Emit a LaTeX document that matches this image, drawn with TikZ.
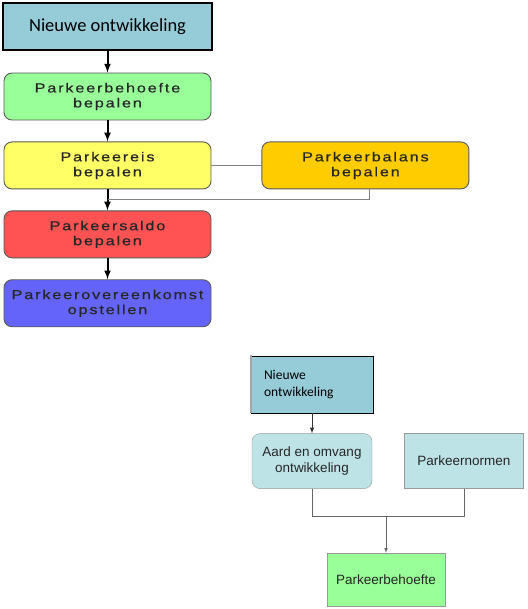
\documentclass[tikz,border=0pt]{standalone}
\usepackage{fontspec}
\setmainfont{Liberation Sans}
\newfontfamily\calibri{Carlito}
\newfontfamily\ruim[FakeStretch=1.25, LetterSpace=14, FakeBold=0.5]{Liberation Sans}
\usetikzlibrary{positioning}

\definecolor{nieuwblauw}{RGB}{150,204,216}
\definecolor{lichtblauw}{RGB}{190,227,231}
\definecolor{behoeftegroen}{RGB}{153,255,153}
\definecolor{eisgeel}{RGB}{255,255,102}
\definecolor{balansoranje}{RGB}{255,204,0}
\definecolor{saldorood}{RGB}{255,82,82}
\definecolor{akkoordblauw}{RGB}{100,100,250}

\tikzset{
   stap/.style={draw=black!65, line width=0.9pt, rounded corners=8pt, minimum width=207pt, minimum height=47pt,
      inner sep=0pt, align=center, text=black!85, font=\ruim\fontsize{13}{15}\selectfont},
   blok/.style={draw=gray!80, minimum width=120pt, minimum height=55pt, inner sep=0pt,
      align=center, text=black!85, font=\fontsize{13.5}{16}\selectfont},
   pijl/.style={->, >=latex, line width=2pt},
   lijn/.style={draw=black!50, line width=0.9pt},
   dunnepijl/.style={->, >=latex, draw=black!60, line width=0.6pt}
}

\begin{document}
\begin{tikzpicture}[x=1pt, y=-1pt]
   \useasboundingbox (0,0) rectangle (527,609);
   % Stappenplan
   \node[draw=black, line width=1.2pt, fill=nieuwblauw, minimum width=209pt, minimum height=47pt,
      inner sep=0pt, font=\calibri\fontsize{18.5}{20}\selectfont] (nieuw) at (107.5,26.5) {Nieuwe ontwikkeling};
   \node[stap, fill=behoeftegroen, below = 22pt of nieuw] (behoefte) {Parkeerbehoefte\\bepalen};
   \node[stap, fill=eisgeel, below = 21pt of behoefte] (eis) {Parkeereis\\bepalen};
   \node[stap, fill=balansoranje, right = 50pt of eis] (balans) {Parkeerbalans\\bepalen};
   \node[stap, fill=saldorood, below = 21pt of eis] (saldo) {Parkeersaldo\\bepalen};
   \node[stap, fill=akkoordblauw, below = 21pt of saldo] (akkoord) {Parkeerovereenkomst\\opstellen};
   \coordinate[below = 10pt of eis.south] (samen);
   % Verbindingen
   \draw[pijl] (nieuw) -- (behoefte);
   \draw[pijl] (behoefte) -- (eis);
   \draw[pijl] (eis) -- (saldo);
   \draw[pijl] (saldo) -- (akkoord);
   \draw[lijn] (eis) -- (balans);
   \draw[lijn] ([xshift=4pt]balans.south) |- (samen);

   % Parkeerbehoefte
   \node[draw=black, line width=0.8pt, fill=nieuwblauw, minimum height=57pt, text width=96pt,
      inner xsep=13pt, inner ysep=0pt, align=left, font=\calibri\fontsize{13.5}{17}\selectfont]
      (nieuwb) at (312,384.5) {Nieuwe\\ontwikkeling};
   \draw[gray!70, line width=2pt] ([yshift=1pt]nieuwb.north west) -- (nieuwb.south west);
   \node[blok, rounded corners=8pt, fill=lichtblauw, below = 20pt of nieuwb] (aard) {Aard en omvang\\ontwikkeling};
   \node[blok, fill=lichtblauw, minimum width=119pt, right = 32pt of aard] (normen) {Parkeernormen};
   \node[blok, fill=behoeftegroen, minimum width=118pt, minimum height=53pt] (behoefteb) at (386,579.5) {Parkeerbehoefte};
   \coordinate[below = 27pt of aard] (aardonder);
   \draw[->, >=latex, draw=black!80, line width=1pt] (nieuwb) -- (aard);
   \draw[draw=black!60, line width=0.6pt] (aard) -- (aardonder) -| (normen);
   \draw[dunnepijl] (behoefteb.north |- aardonder) -- (behoefteb);
\end{tikzpicture}
\end{document}
